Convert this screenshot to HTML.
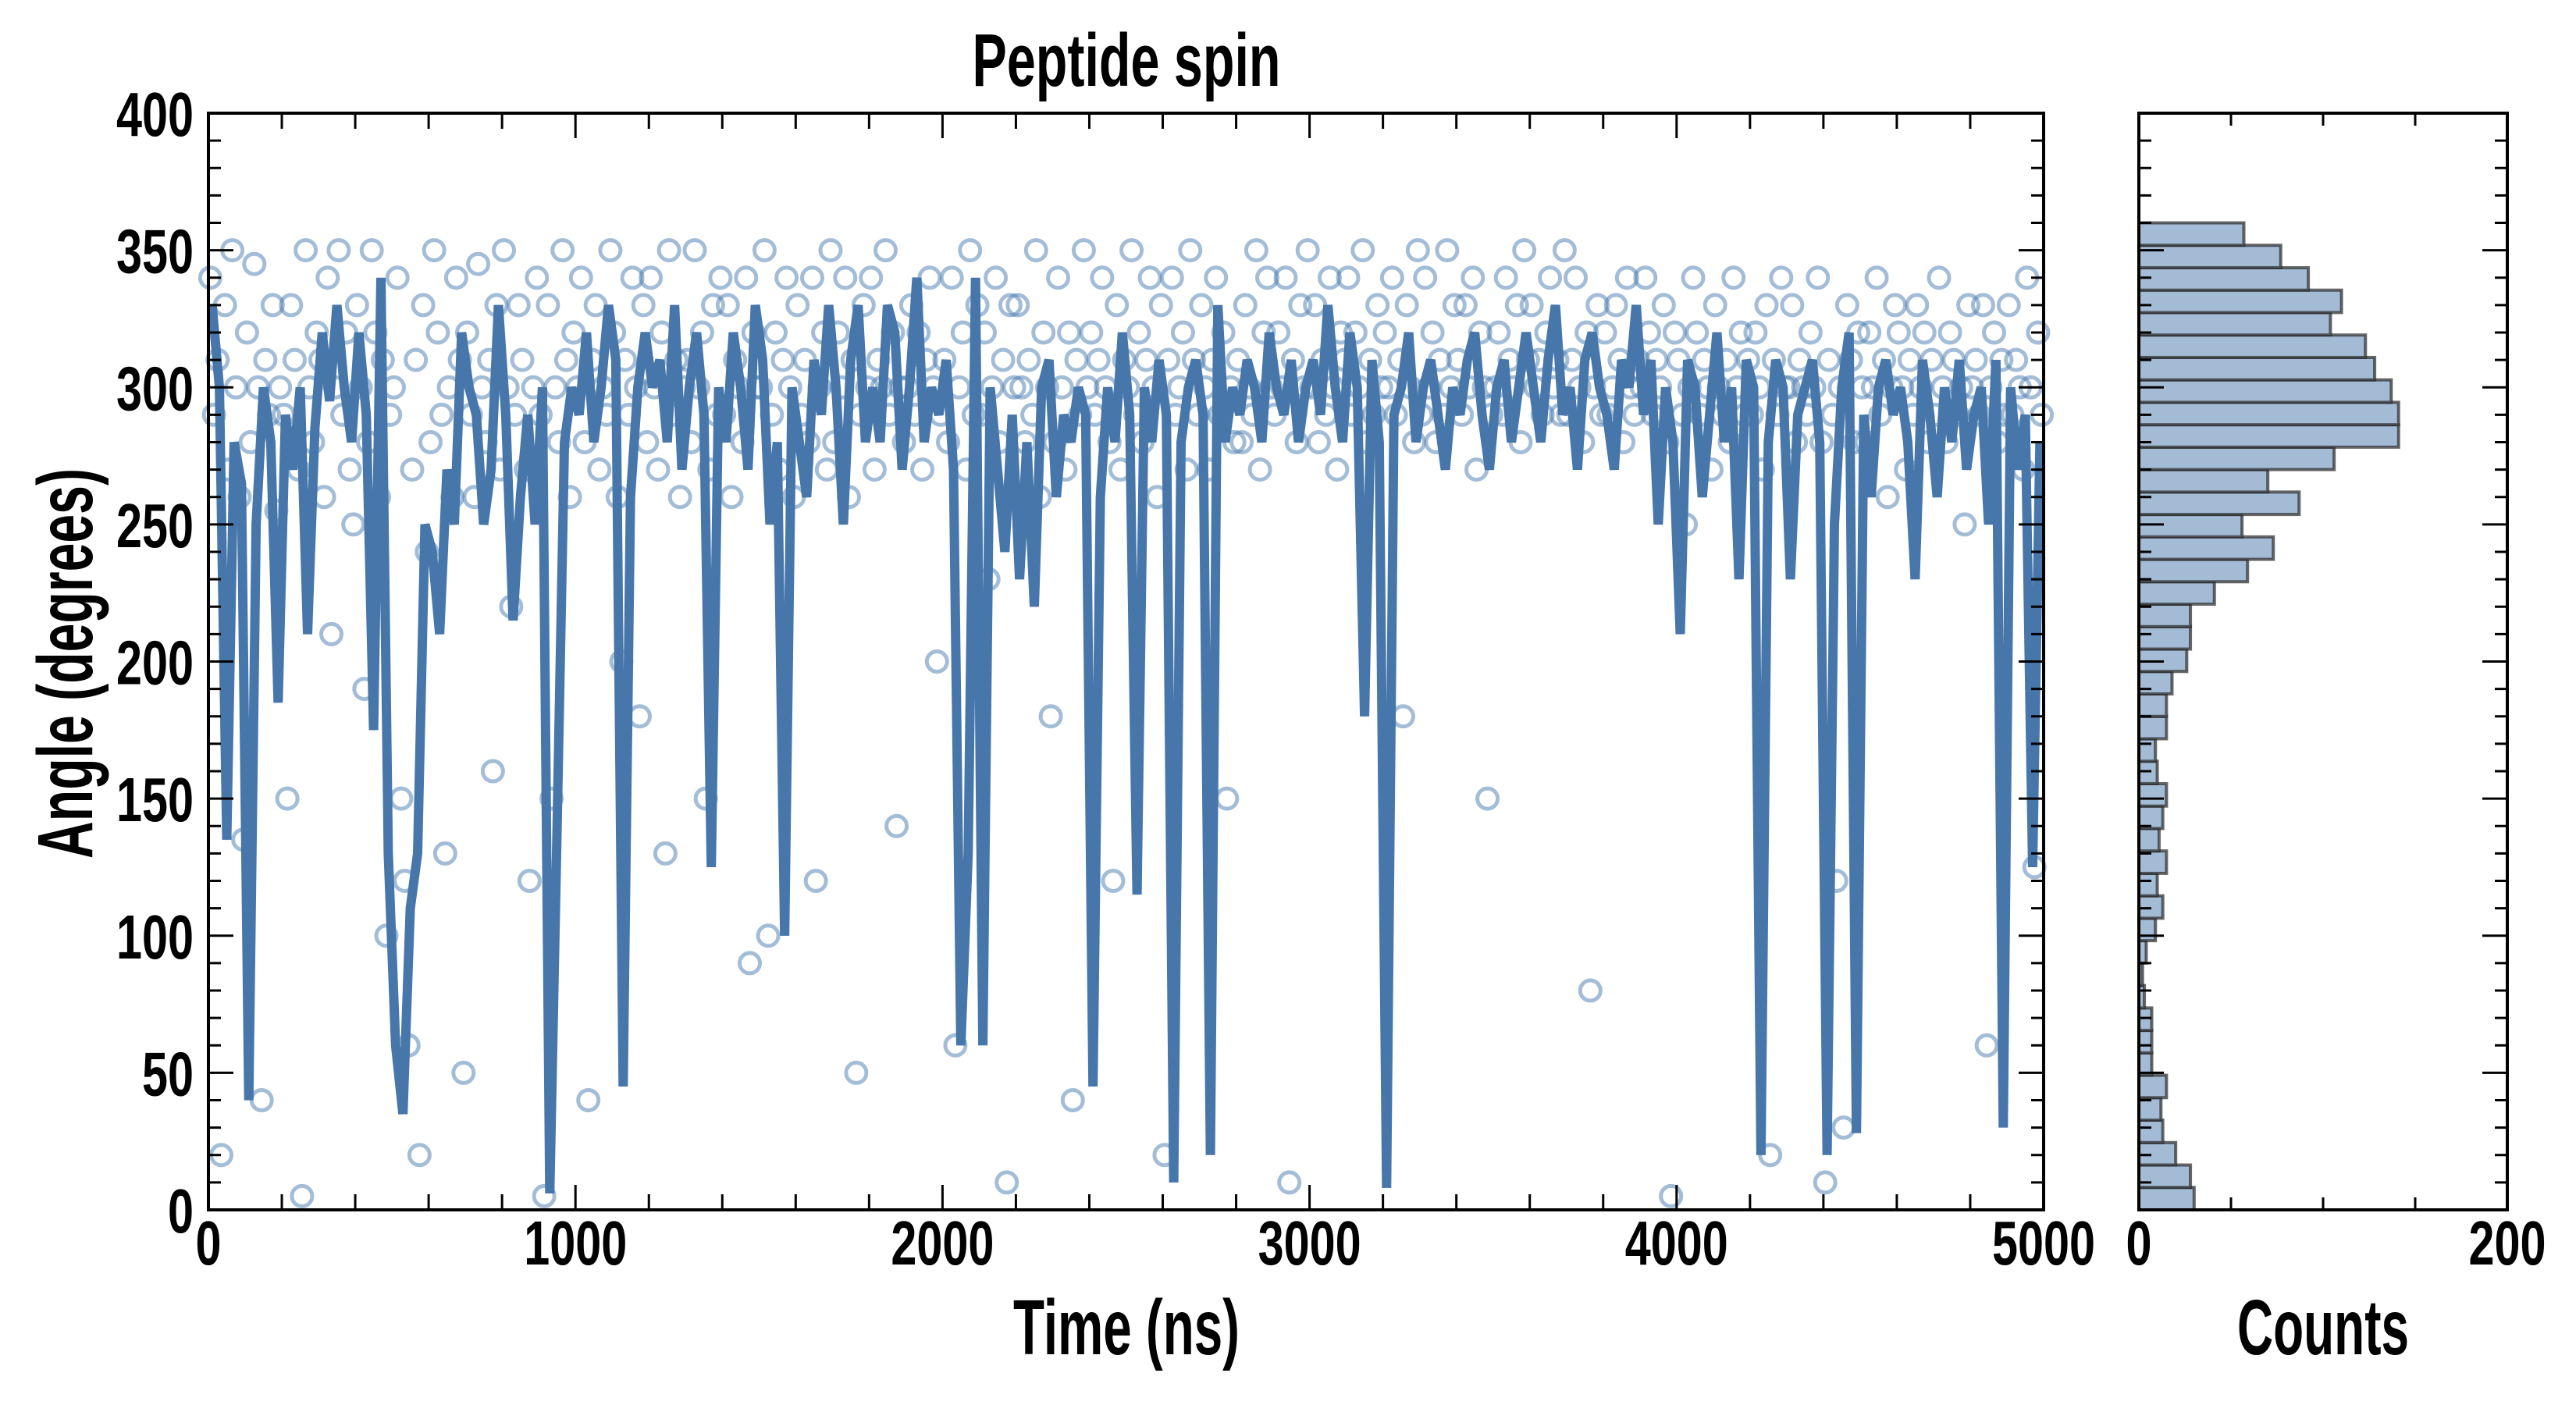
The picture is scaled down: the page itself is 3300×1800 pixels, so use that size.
<!DOCTYPE html>
<html><head><meta charset="utf-8"><style>
html,body{margin:0;padding:0;background:#fff;}
svg{display:block;}
text{font-family:"Liberation Sans Narrow","Liberation Sans",sans-serif;font-weight:bold;fill:#000;}
</style></head><body>
<svg id="chart" width="3300" height="1800" viewBox="0 0 3300 1800" xmlns="http://www.w3.org/2000/svg">
<rect width="3300" height="1800" fill="#fff"/>
<text x="1443" y="110" font-size="96" text-anchor="middle" textLength="395" lengthAdjust="spacingAndGlyphs">Peptide spin</text>
<text transform="translate(118,850) rotate(-90)" font-size="100" text-anchor="middle" textLength="500" lengthAdjust="spacingAndGlyphs">Angle (degrees)</text>
<text x="1443" y="1735" font-size="100" text-anchor="middle" textLength="290" lengthAdjust="spacingAndGlyphs">Time (ns)</text>
<text x="2976" y="1735" font-size="100" text-anchor="middle" textLength="220" lengthAdjust="spacingAndGlyphs">Counts</text>
<g id="main"></g>
<g id="hist"></g>
</svg>
<script>
const lineTimeStep = 20;
const lineAngles = [
330,300,135,280,265,40,250,300,280,185,
290,270,300,210,285,320,295,330,300,280,
320,290,175,340,130,60,35,110,130,250,
240,210,270,250,320,300,290,250,270,330,
290,215,260,290,250,300,6,140,280,300,
290,320,280,300,330,310,45,260,300,320,
300,310,280,330,270,300,320,290,125,300,
280,320,300,270,330,310,250,280,100,300,
280,260,310,290,330,300,250,310,330,280,
300,280,330,320,270,300,340,280,300,290,
310,270,60,130,340,60,300,270,240,290,
230,280,220,300,310,260,290,280,300,290,
45,260,300,280,320,290,115,300,280,310,
290,10,280,300,310,290,20,330,280,300,
290,310,300,280,320,300,290,310,280,300,
310,290,330,300,280,320,300,180,310,280,
8,290,300,320,280,300,310,290,270,300,
290,310,320,290,270,300,310,280,300,320,
300,280,310,330,290,300,270,310,320,300,
290,270,310,300,330,290,310,250,300,280,
210,310,300,260,290,320,280,300,230,310,
300,20,280,310,300,230,290,300,310,280,
20,250,300,320,28,290,260,300,310,290,
300,280,230,310,290,260,300,280,310,270,
290,300,250,310,30,300,270,290,125,280];
const scatterTimeStep = 10;
const scatterAngles = [
340,290,310,20,330,270,350,300,260,135,
320,280,345,300,40,310,290,330,255,300,
290,150,330,310,270,5,350,300,280,320,
310,260,340,210,300,350,290,320,270,250,
330,300,190,280,350,320,260,310,100,290,
300,340,150,120,60,270,310,20,330,240,
280,350,320,290,130,300,260,340,310,50,
320,290,260,345,300,280,310,160,330,270,
350,300,220,290,330,310,270,120,300,340,
290,5,330,150,300,280,350,310,260,320,
300,340,280,40,310,330,270,300,290,350,
320,260,200,310,290,340,300,180,330,280,
340,300,270,320,130,350,290,310,260,300,
310,280,350,300,320,150,270,330,290,340,
290,330,260,310,300,280,340,90,320,300,
300,350,100,290,320,270,310,340,300,260,
330,290,310,280,340,120,300,320,270,350,
280,320,300,340,260,310,50,290,330,300,
340,270,310,300,350,290,320,140,300,280,
300,330,290,320,270,310,340,300,200,290,
310,280,340,60,300,320,270,350,290,330,
290,320,230,300,340,280,310,10,330,300,
330,300,280,310,290,350,260,320,300,180,
280,340,300,270,320,40,310,290,350,300,
320,290,310,340,300,280,120,330,270,310,
300,350,290,320,280,310,340,300,260,330,
20,310,340,290,300,320,270,350,310,290,
330,300,270,310,340,290,320,150,300,280,
310,280,330,300,290,350,270,320,340,300,
290,320,300,340,10,310,280,330,300,350,
300,330,280,310,290,340,300,270,320,310,
340,290,320,300,350,280,310,290,330,300,
320,300,340,290,310,180,330,300,280,350,
290,340,300,320,280,310,290,350,300,330,
310,290,330,300,340,270,320,300,150,290,
300,320,290,340,310,300,330,280,350,310,
330,300,310,290,320,340,300,310,290,350,
290,310,340,300,280,320,80,300,330,290,
320,290,300,330,310,280,340,300,290,310,
300,340,320,290,310,300,330,280,5,320,
310,290,250,300,340,320,290,310,300,270,
330,300,290,310,280,340,300,320,290,310,
290,320,300,270,330,20,310,290,340,300,
300,330,280,310,300,290,320,300,340,280,
10,310,290,120,300,30,330,310,280,320,
300,280,320,300,340,290,310,260,300,330,
320,300,270,310,290,330,300,320,280,310,
290,340,300,280,320,310,290,300,250,330,
300,310,290,330,60,300,320,280,310,290,
330,290,310,300,270,340,300,125,320,290];
const histBinCount = 44;
const histCounts = [30,28,20,13,12,15,7,7,7,3,2,4,9,13,10,15,11,13,15,10,9,15,15,18,26,28,28,41,59,73,56,87,70,106,141,141,137,128,123,104,110,92,77,57];
const xTickLabels = ["0","1000","2000","3000","4000","5000"];
const yTickLabels = ["0","50","100","150","200","250","300","350","400"];
const histTickLabels = ["0","200"];

const NS="http://www.w3.org/2000/svg";
const M={l:267,r:2618,t:145,b:1550};
const H={l:2740,r:3212,t:145,b:1550};
const xS=v=>M.l+(v/5000)*(M.r-M.l);
const yS=v=>M.b-(v/400)*(M.b-M.t);
const hxS=v=>H.l+(v/200)*(H.r-H.l);
function mk(tag,attrs,parent){const e=document.createElementNS(NS,tag);for(const k in attrs)e.setAttribute(k,attrs[k]);parent.appendChild(e);return e;}
const main=document.getElementById('main');
const hist=document.getElementById('hist');

const sg=mk('g',{},main);


scatterAngles.forEach((a,i)=>{
  const c=mk('circle',{cx:xS(i*scatterTimeStep+5).toFixed(1),cy:yS(a).toFixed(1),r:13,fill:'none',stroke:'rgba(74,123,176,0.5)','stroke-width':5},sg);
  
  
});
const pts=lineAngles.map((a,i)=>xS(i*lineTimeStep+10).toFixed(1)+','+yS(a).toFixed(1)).join(' ');
const pl=mk('polyline',{points:pts,fill:'none',stroke:'#4676aa','stroke-width':12,'stroke-linejoin':'miter','stroke-miterlimit':2},main);



const tg=mk('g',{stroke:'#000','stroke-width':3},main);


for(let v=0;v<=5000;v+=200){const x=xS(v),L=v%1000===0?32:20;
  mk('line',{x1:x,y1:M.b,x2:x,y2:M.b-L},tg);mk('line',{x1:x,y1:M.t,x2:x,y2:M.t+L},tg);}
for(let v=0;v<=400;v+=10){const y=yS(v),L=v%50===0?32:16;
  mk('line',{x1:M.l,y1:y,x2:M.l+L,y2:y},tg);mk('line',{x1:M.r,y1:y,x2:M.r-L,y2:y},tg);}
const fr=mk('rect',{x:M.l,y:M.t,width:M.r-M.l,height:M.b-M.t,fill:'none',stroke:'#000','stroke-width':4},main);


xTickLabels.forEach((s,i)=>{
  const t=mk('text',{x:xS(i*1000),y:1620,'font-size':80,'text-anchor':'middle',textLength:s.length*33,lengthAdjust:'spacingAndGlyphs'},main);t.textContent=s;
  
  
});
yTickLabels.forEach((s,i)=>{
  const t=mk('text',{x:248,y:yS(i*50)+29,'font-size':80,'text-anchor':'end',textLength:s.length*33,lengthAdjust:'spacingAndGlyphs'},main);t.textContent=s;
  
  
});

const bw=360/histBinCount;
histCounts.forEach((c,i)=>{
  const y1=yS((i+1)*bw),y0=yS(i*bw);
  const r=mk('rect',{x:H.l,y:y1,width:hxS(c)-H.l,height:y0-y1,fill:'#a3bbd5',stroke:'rgba(40,40,40,0.7)','stroke-width':4},hist);
  
  
});
const hg=mk('g',{stroke:'#000','stroke-width':3},hist);


for(let v=0;v<=200;v+=50){const x=hxS(v);mk('line',{x1:x,y1:H.b,x2:x,y2:H.b-16},hg);mk('line',{x1:x,y1:H.t,x2:x,y2:H.t+16},hg);}
for(let v=0;v<=400;v+=10){const y=yS(v),L=v%50===0?32:16;
  mk('line',{x1:H.l,y1:y,x2:H.l+L,y2:y},hg);mk('line',{x1:H.r,y1:y,x2:H.r-L,y2:y},hg);}
const hf=mk('rect',{x:H.l,y:H.t,width:H.r-H.l,height:H.b-H.t,fill:'none',stroke:'#000','stroke-width':4},hist);


histTickLabels.forEach((s,i)=>{
  const t=mk('text',{x:hxS(i*200),y:1620,'font-size':80,'text-anchor':'middle',textLength:s.length*33,lengthAdjust:'spacingAndGlyphs'},hist);t.textContent=s;
  
  
});
</script>
</body></html>
